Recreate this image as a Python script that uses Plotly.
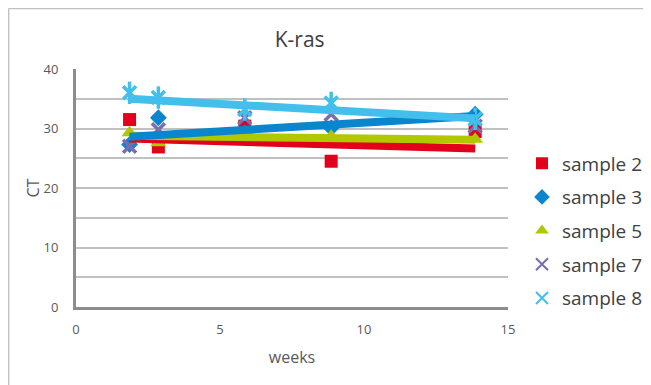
import plotly.graph_objects as go

# ---- data ----
weeks = [1.86, 2.86, 5.86, 8.86, 13.86]
sample_2 = [31.5, 26.9, 30.4, 24.5, 29.5]
sample_3 = [27.3, 31.8, 29.3, 30.1, 32.4]
sample_5 = [29.3, 27.6, 28.3, 28.7, 28.2]
sample_7 = [27.0, 29.8, 31.8, 32.4, 30.4]
sample_8 = [36.0, 35.2, 33.2, 34.3, 31.6]

# linear trendline values at first / last week
trend_2 = [28.3, 26.65]
trend_3 = [28.6, 32.1]
trend_5 = [28.8, 28.1]
trend_8 = [35.0, 31.7]

x_ticks = [0, 5, 10, 15]
y_ticks = [0, 10, 20, 30, 40]

RED = "#e2001a"
BLUE = "#0a86cf"
GREEN = "#b1c800"
PURPLE = "#7a6caf"
LBLUE = "#43bfec"
FONT = "Open Sans"

fig = go.Figure()

# markers
fig.add_trace(go.Scatter(x=weeks, y=sample_2, mode="markers", name="sample 2",
                         legendgroup="s2",
                         marker=dict(symbol="square", size=13, color=RED)))
fig.add_trace(go.Scatter(x=weeks, y=sample_3, mode="markers", name="sample 3",
                         legendgroup="s3",
                         marker=dict(symbol="diamond", size=13, color=BLUE)))
fig.add_trace(go.Scatter(x=weeks, y=sample_5, mode="markers", name="sample 5",
                         legendgroup="s5",
                         marker=dict(symbol="triangle-up", size=14, color=GREEN)))
fig.add_trace(go.Scatter(x=weeks, y=sample_7, mode="markers", name="sample 7",
                         legendgroup="s7",
                         marker=dict(symbol="x-thin-open", size=13, color=PURPLE,
                                     line=dict(color=PURPLE, width=3.5))))
fig.add_trace(go.Scatter(x=weeks, y=sample_8, mode="markers", name="sample 8",
                         legendgroup="s8",
                         marker=dict(symbol="x-thin-open", size=13, color=LBLUE,
                                     line=dict(color=LBLUE, width=3.5))))
fig.add_trace(go.Scatter(x=weeks, y=sample_8, mode="markers", showlegend=False,
                         legendgroup="s8", hoverinfo="skip",
                         marker=dict(symbol="line-ns-open", size=16, color=LBLUE,
                                     line=dict(color=LBLUE, width=3.5))))

# trendlines
xr = [weeks[0], weeks[-1]]
for tr, col in [(trend_2, RED), (trend_5, GREEN), (trend_3, BLUE), (trend_8, LBLUE)]:
    fig.add_trace(go.Scatter(x=xr, y=tr, mode="lines", showlegend=False,
                             hoverinfo="skip", line=dict(color=col, width=8)))

BORDER = dict(color="#c0c0c0", width=1.5)
fig.update_layout(
    width=651, height=385,
    margin=dict(l=68, r=150, t=61, b=86),
    paper_bgcolor="white", plot_bgcolor="white",
    font=dict(family=FONT, color="#595959"),
    title=dict(text="K-ras", x=0.448, xanchor="center", y=0.919, yanchor="middle",
               font=dict(family=FONT, size=21, color="#404040")),
    showlegend=True,
    legend=dict(x=1.03, xanchor="left", y=0.32, yanchor="middle",
                font=dict(family=FONT, size=19, color="#404040"),
                tracegroupgap=6, itemsizing="constant",
                bgcolor="rgba(0,0,0,0)"),
    shapes=[
        dict(type="line", xref="paper", yref="paper", x0=-0.156, x1=-0.156,
             y0=-1.0, y1=1.254, line=BORDER, layer="below"),
        dict(type="line", xref="paper", yref="paper", x0=-0.156, x1=2.5,
             y0=1.254, y1=1.254, line=BORDER, layer="below"),
    ],
)

fig.update_xaxes(range=[0, 15], tickvals=x_ticks, showgrid=False, zeroline=False,
                 showline=True, linecolor="#8c8c8c", linewidth=3,
                 tickfont=dict(size=13, color="#595959"), ticks="", ticklabelstandoff=8,
                 title=dict(text="weeks", font=dict(size=16, color="#595959"), standoff=16))
fig.update_yaxes(range=[0, 40], tickvals=y_ticks, showgrid=True, gridcolor="#c0c0c0",
                 gridwidth=1.5, zeroline=False,
                 minor=dict(dtick=5, showgrid=True, gridcolor="#c0c0c0", gridwidth=1.5),
                 showline=True, linecolor="#8c8c8c", linewidth=3,
                 tickfont=dict(size=13, color="#595959"), ticks="", ticklabelstandoff=12,
                 title=dict(text="CT", font=dict(size=16, color="#595959"), standoff=0))

fig.write_html("out.html")
